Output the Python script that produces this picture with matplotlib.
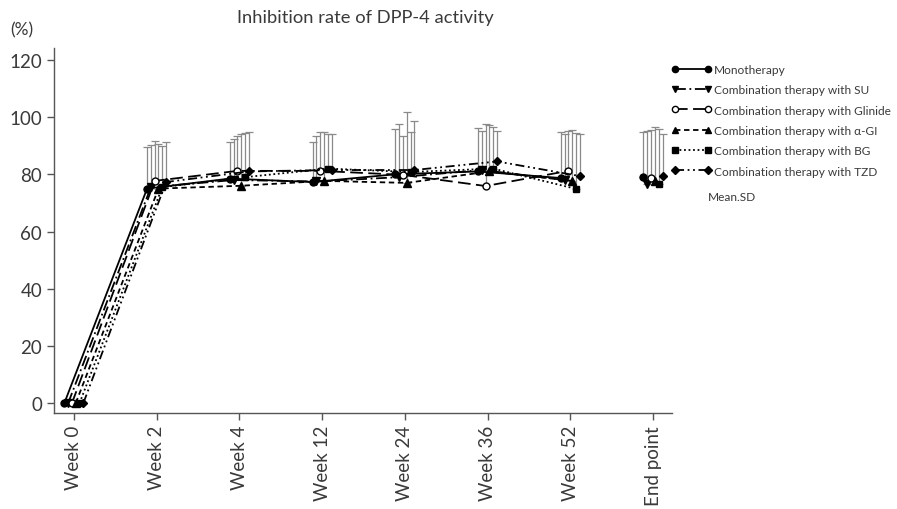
import matplotlib
matplotlib.use("Agg")
import matplotlib.pyplot as plt
import numpy as np
from matplotlib.lines import Line2D

plt.rcParams['font.family'] = ['Lato', 'DejaVu Sans']

x_labels = ["Week 0", "Week 2", "Week 4", "Week 12", "Week 24", "Week 36", "Week 52", "End point"]
series_names = ["Monotherapy", "Combination therapy with SU", "Combination therapy with Glinide",
                "Combination therapy with α-GI", "Combination therapy with BG", "Combination therapy with TZD"]

mono = [0, 75.0, 78.5, 77.3, 80.0, 81.0, 78.7, 79.0]
su = [0, 75.5, 78.0, 77.5, 79.0, 81.5, 78.0, 76.5]
glinide = [0, 77.7, 81.2, 81.2, 79.8, 75.9, 81.2, 78.8]
agi = [0, 75.0, 76.0, 77.7, 77.0, 81.0, 77.7, 77.5]
bg = [0, 75.5, 79.0, 82.0, 80.8, 82.0, 74.9, 76.5]
tzd = [0, 77.3, 81.0, 81.5, 81.5, 84.5, 79.4, 79.4]

mono_sd = [0, 14.6, 12.8, 14.0, 15.9, 15.2, 16.1, 15.8]
su_sd = [0, 14.8, 14.4, 15.9, 18.6, 13.7, 16.0, 18.7]
glinide_sd = [0, 14.0, 12.2, 13.6, 13.6, 21.7, 14.0, 16.7]
agi_sd = [0, 15.6, 18.1, 17.1, 24.8, 16.3, 17.8, 19.0]
bg_sd = [0, 14.4, 15.5, 12.0, 14.0, 14.5, 19.6, 19.4]
tzd_sd = [0, 14.0, 13.8, 12.5, 17.2, 10.7, 14.6, 14.6]

values = [mono, su, glinide, agi, bg, tzd]
sds = [mono_sd, su_sd, glinide_sd, agi_sd, bg_sd, tzd_sd]

markers = ['o', 'v', 'o', '^', 's', 'D']
facecolors = ['black', 'black', 'white', 'black', 'black', 'black']
dashes = [None, (6, 2, 1, 2), (7, 3), (3, 2), (1, 1.5), (5, 2, 1, 2, 1, 2)]
msizes = [5, 5.5, 5, 5.5, 5, 4.5]

fig = plt.figure(figsize=(8.97, 5.10), dpi=100)
ax = fig.add_axes([0.0602, 0.188, 0.689, 0.715])

n = len(x_labels)
base = np.arange(n)
offsets = np.linspace(-0.115, 0.115, 6)
grey = '#8a8a8a'
txt = '#3a3a3a'

for i in range(6):
    xs = base + offsets[i]
    v = np.array(values[i])
    sd = np.array(sds[i])
    mask = sd > 0
    ax.errorbar(xs[mask], v[mask], yerr=[np.zeros(mask.sum()), sd[mask]], fmt='none',
                ecolor=grey, elinewidth=0.9, capsize=3, capthick=0.9, zorder=1)
    ls = '-' if dashes[i] is None else '--'
    line, = ax.plot(xs[:n - 1], v[:n - 1], color='black', lw=1.3, linestyle=ls,
                    marker=markers[i], markersize=msizes[i], markerfacecolor=facecolors[i],
                    markeredgecolor='black', markeredgewidth=1.0, zorder=3)
    if dashes[i] is not None:
        line.set_dashes(dashes[i])
    ax.plot(xs[n - 1:], v[n - 1:], linestyle='none', marker=markers[i], markersize=msizes[i],
            markerfacecolor=facecolors[i], markeredgecolor='black', markeredgewidth=1.0, zorder=3)

ax.set_xlim(-0.24, 7.23)
ax.set_ylim(-3.5, 124)
ax.set_yticks([0, 20, 40, 60, 80, 100, 120])
ax.set_xticks(base)
ax.set_xticklabels(x_labels, rotation=90)
for s in ['top', 'right']:
    ax.spines[s].set_visible(False)
for s in ['left', 'bottom']:
    ax.spines[s].set_color('#555555')
    ax.spines[s].set_linewidth(1.0)
ax.tick_params(axis='both', colors='#555555', labelcolor=txt, labelsize=13.5, length=5, width=1.0)

fig.text(0.407, 0.965, "Inhibition rate of DPP-4 activity", ha='center', va='center', fontsize=13.2, color=txt)
fig.text(0.011, 0.94, "(%)", ha='left', va='center', fontsize=12.5, color=txt)

handles = []
for i in range(6):
    h = Line2D([0], [0], color='black', lw=1.3, linestyle='-' if dashes[i] is None else '--',
               marker=markers[i], markersize=msizes[i] - 0.5, markerfacecolor=facecolors[i],
               markeredgecolor='black')
    if dashes[i] is not None:
        h.set_dashes(dashes[i])
    handles.append(h)
leg = fig.legend(handles, series_names, loc='upper left', bbox_to_anchor=(0.743, 0.882),
                 frameon=False, numpoints=2, fontsize=8.6, handlelength=3.4, handletextpad=0.2,
                 labelspacing=0.78, borderaxespad=0)
for t in leg.get_texts():
    t.set_color(txt)
fig.text(0.789, 0.613, "Mean.SD", ha='left', va='center', fontsize=8.6, color=txt)

fig.savefig("out.png", dpi=100)
